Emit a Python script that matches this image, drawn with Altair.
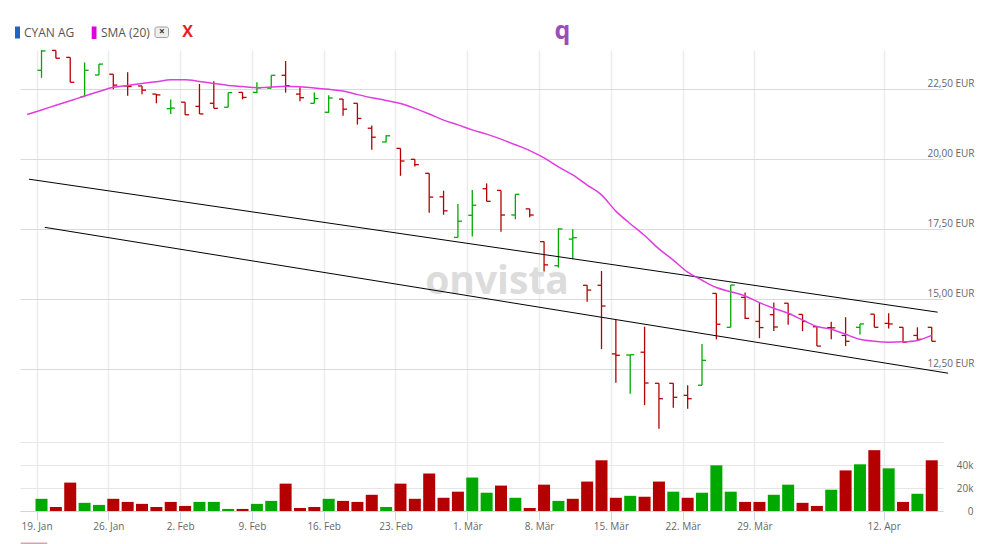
import altair as alt
import pandas as pd

# ---------------- data ----------------
opens = [23.18, 23.89, 23.64, 22.24, 23.01, 23.04, 22.62, 22.62, 22.33, 21.81,
         22.04, 21.89, 22.00, 21.86, 22.39, 22.39, 22.54, 23.00, 22.33, 22.00,
         21.68, 22.15, 22.00, 21.11, 20.62, 20.39, 20.00, 19.50, 18.66, 17.21,
         18.00, 18.95, 18.89, 18.01, 18.23, 17.06, 16.20, 17.15, 15.50, 15.50,
         13.05, 13.01, 13.11, 12.00, 12.00, 11.57, 11.93, 15.21, 14.00, 15.07,
         14.21, 14.45, 14.86, 14.46, 14.02, 13.99, 13.71, 14.00, 14.47, 14.14,
         14.00, 13.71, 14.00]
highs = [23.90, 23.89, 23.64, 23.46, 23.40, 23.04, 23.11, 22.62, 22.33, 22.14,
         22.04, 22.69, 22.79, 22.38, 22.39, 22.75, 23.00, 23.51, 22.57, 22.39,
         22.29, 22.15, 22.00, 21.21, 20.86, 20.39, 20.00, 19.50, 18.88, 18.40,
         18.90, 19.14, 18.89, 18.75, 18.23, 17.06, 17.54, 17.50, 15.50, 16.01,
         14.26, 13.02, 14.02, 12.00, 12.00, 11.93, 13.40, 15.21, 15.51, 15.24,
         14.89, 14.89, 14.86, 14.46, 14.05, 14.20, 14.36, 14.12, 14.47, 14.50,
         14.00, 14.00, 14.00]
lows = [22.91, 23.61, 22.75, 22.24, 23.01, 22.50, 22.27, 22.32, 22.00, 21.62,
        21.59, 21.62, 21.82, 21.86, 22.14, 22.36, 22.54, 22.38, 22.07, 22.00,
        21.66, 21.56, 21.24, 20.34, 20.61, 19.41, 19.74, 18.09, 18.02, 17.21,
        17.24, 18.50, 17.41, 17.86, 17.93, 15.99, 16.13, 16.43, 14.91, 13.22,
        12.02, 11.63, 11.22, 10.38, 11.13, 11.09, 11.93, 13.57, 14.00, 14.30,
        13.61, 13.87, 14.09, 13.86, 13.33, 13.57, 13.33, 13.74, 14.00, 13.96,
        13.45, 13.52, 13.50]
closes = [23.87, 23.61, 22.75, 23.18, 23.40, 22.65, 22.60, 22.47, 22.30, 21.83,
          21.59, 21.62, 21.82, 22.38, 22.21, 22.55, 23.00, 22.63, 22.20, 22.17,
          22.19, 21.79, 21.46, 20.79, 20.84, 19.94, 19.81, 18.65, 18.16, 17.79,
          18.36, 18.50, 18.01, 18.75, 18.01, 16.23, 17.51, 17.20, 15.33, 14.76,
          13.00, 13.02, 12.01, 11.45, 11.50, 11.45, 12.82, 14.11, 15.51, 14.32,
          13.99, 14.01, 14.46, 14.21, 13.33, 13.98, 13.50, 14.12, 14.00, 14.12,
          13.47, 13.57, 13.50]
volumes_k = [10.6, 3.5, 24.7, 7.1, 5.3, 10.6, 7.9, 6.2, 3.5, 7.9,
             4.4, 7.9, 7.9, 1.8, 1.8, 6.2, 8.8, 23.8, 2.6, 3.5,
             10.6, 8.8, 7.9, 14.1, 3.5, 23.8, 10.6, 32.6, 11.5, 16.8,
             29.1, 15.9, 22.1, 11.5, 2.6, 22.9, 8.8, 10.6, 25.6, 44.1,
             11.5, 13.2, 12.4, 25.6, 16.8, 11.5, 15.9, 39.7, 16.8, 7.9,
             7.9, 14.1, 22.9, 7.1, 4.4, 18.5, 35.3, 40.6, 52.9, 37.1,
             7.9, 15.0, 44.1]
vol_dir = list("UDDUUDDDDD" "DUUUDUUDDD" "UDDDUDDDDD" "UUDUDDUDDD"
               "DUDDUDUUUD" "DUUDDUDUDU" "DUD")
# SMA (20) values, starting one trading day before the first bar
sma = [21.60,
       21.76, 21.93, 22.09, 22.26, 22.42, 22.57, 22.64, 22.71, 22.77, 22.84,
       22.84, 22.78, 22.71, 22.64, 22.60, 22.56, 22.58, 22.61, 22.59, 22.55,
       22.50, 22.44, 22.31, 22.20, 22.10, 21.99, 21.82, 21.62, 21.40, 21.23,
       21.05, 20.90, 20.72, 20.52, 20.31, 20.05, 19.73, 19.44, 19.08, 18.73,
       18.15, 17.70, 17.28, 16.80, 16.40, 15.97, 15.68, 15.42, 15.27, 15.12,
       14.88, 14.68, 14.50, 14.26, 14.03, 13.93, 13.75, 13.57, 13.50, 13.47,
       13.48, 13.53, 13.71]
tick_idx = [0, 5, 10, 15, 20, 25, 30, 35, 40, 45, 50, 59]
tick_labels = ["19. Jan", "26. Jan", "2. Feb", "9. Feb", "16. Feb", "23. Feb",
               "1. Mär", "8. Mär", "15. Mär", "22. Mär", "29. Mär", "12. Apr"]
price_ticks = [12.5, 15.0, 17.5, 20.0, 22.5]
vol_ticks = [0, 20000, 40000, 60000]
trend_x = [-0.875, 62.41, 0.227, 63.14]
trend_y = [19.29, 14.54, 17.57, 12.36]
trend_id = ["upper", "upper", "lower", "lower"]

# ---------------- styling ----------------
GREEN = "#00a900"
RED = "#b50000"
FONT = "Open Sans"
X_DOMAIN = [-1.15, 62.435]
P_DOMAIN = [7.439, 23.904]
V_DOMAIN = [0, 400870]

bars = pd.DataFrame({
    "i": list(range(len(opens))),
    "open": opens, "high": highs, "low": lows, "close": closes,
    "vol": [v * 1000 for v in volumes_k], "vdir": vol_dir,
})
sma_df = pd.DataFrame({"i": list(range(-1, len(sma) - 1)), "sma": sma})
trend_df = pd.DataFrame({"x": trend_x, "y": trend_y, "line": trend_id})
pgrid_df = pd.DataFrame({"p": price_ticks})

lab_arr = [""] * (max(tick_idx) + 1)
for k, lab in zip(tick_idx, tick_labels):
    lab_arr[k] = lab
lab_expr = "[" + ",".join("'" + s + "'" for s in lab_arr) + "][datum.value]"

x_scale = alt.Scale(domain=X_DOMAIN, nice=False, zero=False)
x_axis = alt.Axis(values=tick_idx, labelExpr=lab_expr, tickOffset=-5, grid=True,
                  gridColor="#ececec", gridWidth=1.5, domain=True,
                  domainColor="#ccd6eb", tickColor="#ccd6eb", tickSize=9,
                  labelColor="#666666", labelFont=FONT, labelFontSize=10,
                  labelPadding=1, labelFlush=False, labelOverlap=False, title=None)
p_scale = alt.Scale(domain=P_DOMAIN, nice=False, zero=False)
p_axis = alt.Axis(orient="right", values=price_ticks,
                  labelExpr="replace(format(datum.value, '.2f'), '.', ',') + ' EUR'",
                  grid=True, gridColor="#dadada", gridWidth=1, domain=False,
                  ticks=False, labelAlign="right", labelPadding=31, labelOffset=-6,
                  labelColor="#666666", labelFont=FONT, labelFontSize=10, title=None)
v_scale = alt.Scale(domain=V_DOMAIN, nice=False, zero=True)
v_axis = alt.Axis(orient="right", values=vol_ticks,
                  labelExpr="datum.value == 60000 ? '' : (datum.value == 0 ? '0' : (datum.value / 1000) + 'k')",
                  grid=True, gridColor="#e6e6e6", gridWidth=1, domain=False,
                  ticks=False, labelAlign="right", labelPadding=30,
                  labelColor="#666666", labelFont=FONT, labelFontSize=10, title=None)

one = alt.Data(values=[{"a": 1}])

watermark = alt.Chart(one).mark_text(
    text="onvista", font=FONT, fontSize=39, fontWeight="bold", color="#dcdcdc",
    align="center", baseline="middle").encode(x=alt.value(477), y=alt.value(232))

# price gridlines + labels (carries the price axis)
pgrid = alt.Chart(pgrid_df).mark_rule(opacity=0).encode(
    y=alt.Y("p:Q", scale=p_scale, axis=p_axis),
)

vol_layer = alt.Chart(bars).mark_bar(size=12).encode(
    x=alt.X("i:Q", scale=x_scale, axis=x_axis),
    y=alt.Y("vol:Q", scale=v_scale, axis=v_axis),
    color=alt.Color("vdir:N", scale=alt.Scale(domain=["U", "D"], range=[GREEN, RED]), legend=None),
)

up_color = alt.condition("datum.close >= datum.open", alt.value(GREEN), alt.value(RED))

hl = alt.Chart(bars).mark_rule(strokeWidth=1.3).encode(
    x=alt.X("i:Q", scale=x_scale, axis=x_axis),
    y=alt.Y("low:Q", scale=p_scale, axis=None),
    y2="high:Q",
    color=up_color,
)
open_tick = alt.Chart(bars).transform_calculate(xl="datum.i - 0.28").mark_rule(strokeWidth=1.3).encode(
    x=alt.X("xl:Q", scale=x_scale, axis=x_axis),
    x2="i:Q",
    y=alt.Y("open:Q", scale=p_scale, axis=None),
    color=up_color,
)
close_tick = alt.Chart(bars).transform_calculate(xr="datum.i + 0.28").mark_rule(strokeWidth=1.3).encode(
    x=alt.X("i:Q", scale=x_scale, axis=x_axis),
    x2="xr:Q",
    y=alt.Y("close:Q", scale=p_scale, axis=None),
    color=up_color,
)
trend = alt.Chart(trend_df).mark_line(color="#000000", strokeWidth=1).encode(
    x=alt.X("x:Q", scale=x_scale, axis=x_axis),
    y=alt.Y("y:Q", scale=p_scale, axis=None),
    detail="line:N",
)
sma_line = alt.Chart(sma_df).mark_line(color="#e03ce0", strokeWidth=1.5, interpolate="monotone").encode(
    x=alt.X("i:Q", scale=x_scale, axis=x_axis),
    y=alt.Y("sma:Q", scale=p_scale, axis=None),
)

# header legend items
def box(x1, x2, y1, y2, color, **kw):
    return alt.Chart(one).mark_rect(color=color, **kw).encode(
        x=alt.value(x1), x2=alt.value(x2), y=alt.value(y1), y2=alt.value(y2))

def label(txt, x, y, **kw):
    opts = dict(font=FONT, fontSize=12, color="#555555", align="left", baseline="middle")
    opts.update(kw)
    return alt.Chart(one).mark_text(text=txt, **opts).encode(x=alt.value(x), y=alt.value(y))

legend = [
    box(-5, 0, -23.5, -11.5, "#1f63c6"),
    label("CYAN AG", 4, -17.5),
    box(71.7, 76.5, -23.5, -11, "#dd00dd"),
    label("SMA (20)", 81, -17.5),
    box(135, 148.5, -23, -12.5, "#eeeeee", stroke="#a0a0a0", strokeWidth=1, cornerRadius=2),
    label("×", 141.8, -17.8, fontSize=10, color="#333333", align="center", fontWeight="bold"),
    label("X", 167.7, -18.3, fontSize=16, color="#ee1c25", align="center", fontWeight="bold"),
    label("q", 542.5, -11.5, fontSize=25, color="#9b4db8", align="center",
          baseline="alphabetic", fontWeight="bold"),
    box(0.7, 27.3, 492.5, 494, "#d9a3ab"),
]

chart = alt.layer(
    watermark, pgrid, vol_layer, hl, open_tick, close_tick, trend, sma_line, *legend
).resolve_scale(
    y="independent"
).properties(
    width=923, height=461,
    autosize=alt.AutoSizeParams(type="none"),
    padding={"left": 12, "top": 42, "right": 48, "bottom": 33},
).configure_view(stroke="transparent")

chart.save("out.html", embed_options={"renderer": "svg", "actions": False})
